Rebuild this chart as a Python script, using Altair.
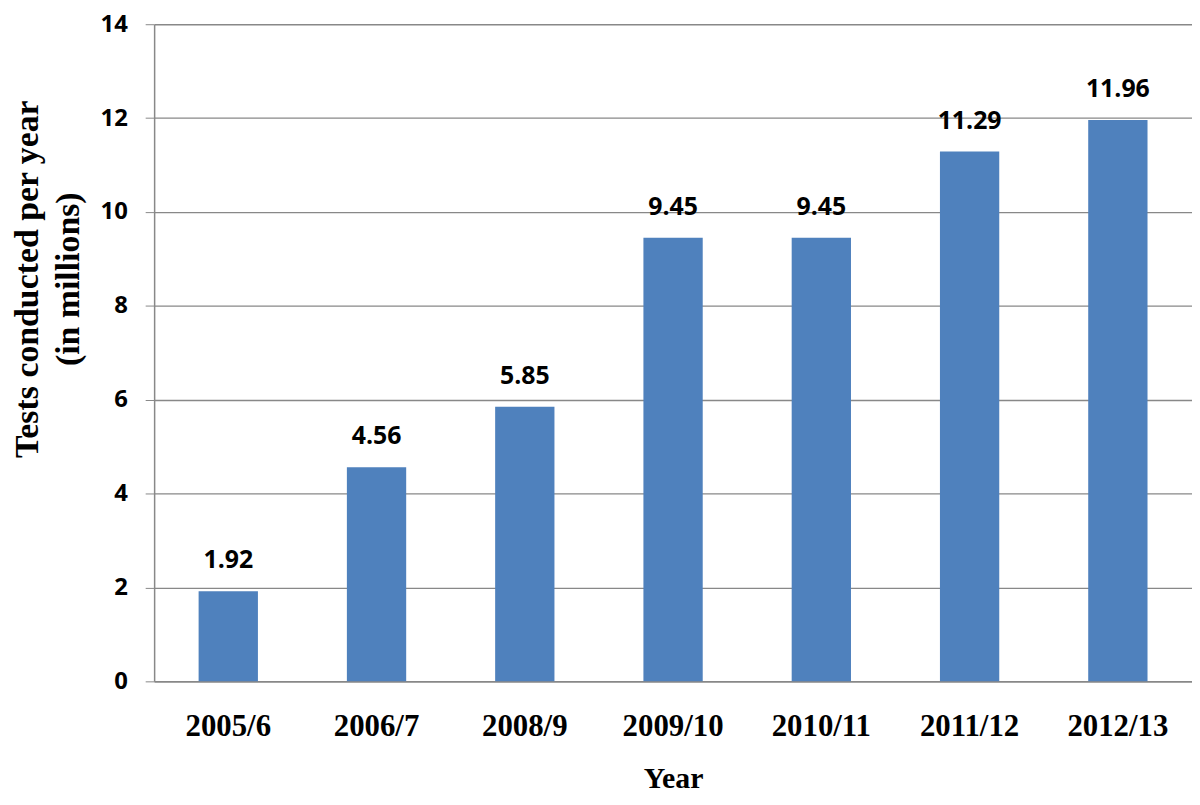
import altair as alt
import pandas as pd

years = ["2005/6", "2006/7", "2008/9", "2009/10", "2010/11", "2011/12", "2012/13"]
tests = [1.92, 4.56, 5.85, 9.45, 9.45, 11.29, 11.96]
labels = ["1.92", "4.56", "5.85", "9.45", "9.45", "11.29", "11.96"]

df = pd.DataFrame({"Year": years, "Tests": tests, "Label": labels})

x = alt.X("Year:N", sort=years,
          scale=alt.Scale(paddingInner=0.6, paddingOuter=0.3),
          axis=alt.Axis(title="Year", labelAngle=0, ticks=False,
                        labelFont="Liberation Serif", labelFontWeight="bold",
                        labelFontSize=31, labelColor="black", labelPadding=30,
                        titleFont="Liberation Serif", titleFontWeight="bold",
                        titleFontSize=30, titleColor="black", titlePadding=23,
                        domainColor="#888888", domainWidth=1.5))
y = alt.Y("Tests:Q", scale=alt.Scale(domain=[0, 14], nice=False),
          axis=alt.Axis(title=["Tests conducted per year", "(in millions)"],
                        values=[0, 2, 4, 6, 8, 10, 12, 14], tickSize=9,
                        tickColor="#888888", gridColor="#888888", gridWidth=1.3,
                        domainColor="#888888", domainWidth=1.5,
                        labelFont="Open Sans", labelFontWeight="bold",
                        labelFontSize=24, labelColor="black", labelPadding=18,
                        titleFont="Liberation Serif", titleFontWeight="bold",
                        titleFontSize=34, titleColor="black", titleAngle=-90,
                        titleX=-127, titleY=256, titleLineHeight=41,
                        titleBaseline="middle", titleAlign="center"))

bars = alt.Chart(df).mark_bar(color="#4F81BD").encode(x=x, y=y)
text = alt.Chart(df).mark_text(baseline="bottom", dy=-18, font="Open Sans",
                               fontWeight="bold", fontSize=25, color="black").encode(
    x=alt.X("Year:N", sort=years), y="Tests:Q", text="Label:N")

chart = (bars + text).properties(
    width=1044, height=661,
    autosize=alt.AutoSizeParams(type="none"),
    padding={"left": 147, "top": 14, "right": 0, "bottom": 114},
).configure_view(stroke=None)

chart.save("out.html", embed_options={"renderer": "svg", "actions": False})
